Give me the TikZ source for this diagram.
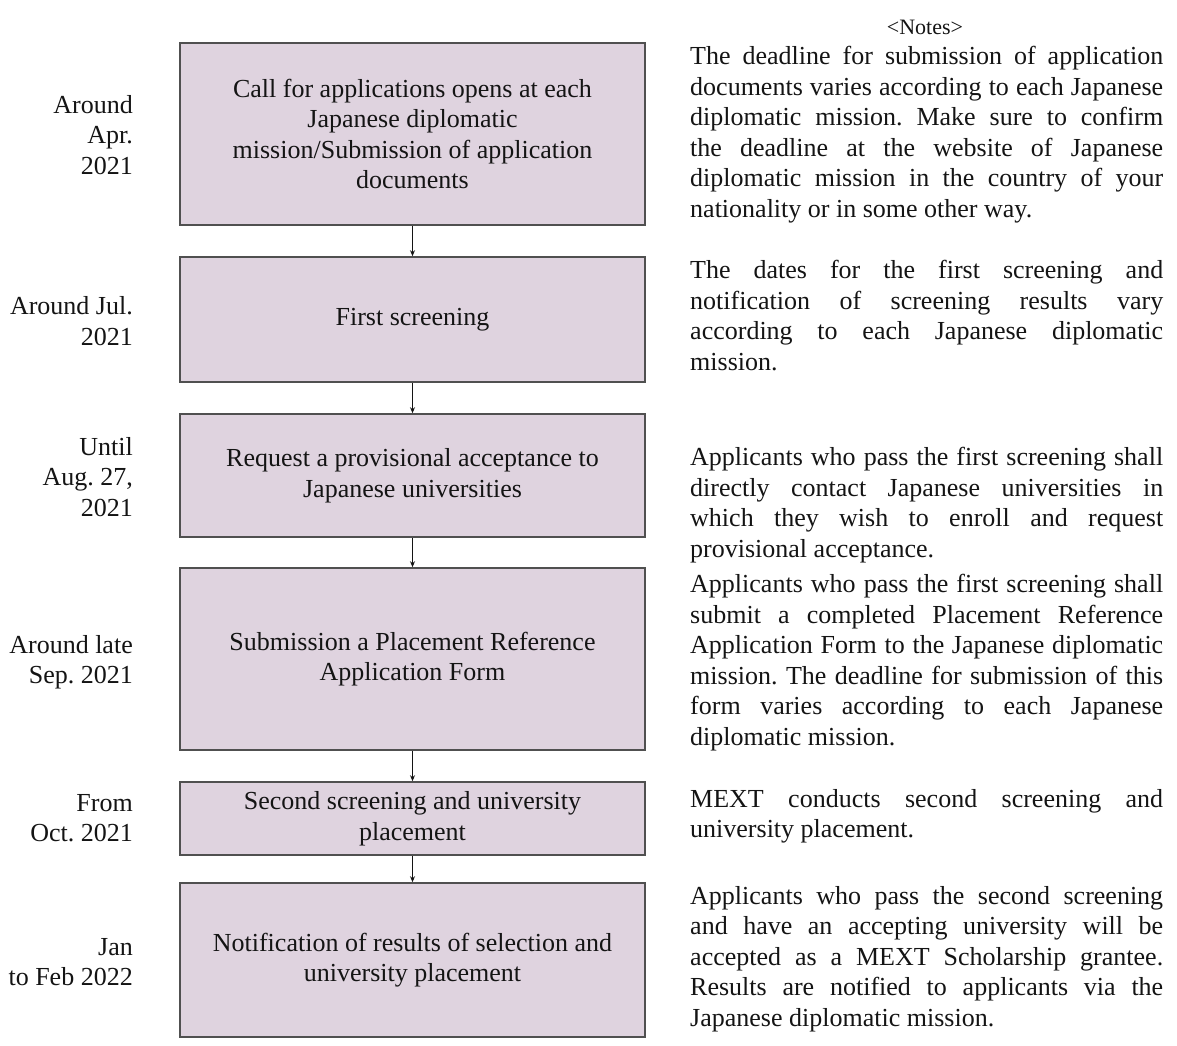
\documentclass[tikz,border=0pt]{standalone}
\usepackage{fontspec}
\setmainfont{Liberation Serif}
\usetikzlibrary{arrows.meta}
\definecolor{boxfill}{RGB}{223,211,223}
\definecolor{boxdraw}{RGB}{80,80,80}
\definecolor{txt}{RGB}{20,20,20}
\tolerance=10000
\hbadness=10000
\emergencystretch=20pt
\frenchspacing
\begin{document}
\begin{tikzpicture}[x=1pt,y=-1pt,
  stepbox/.style={draw=boxdraw, line width=1.6pt, fill=boxfill, minimum width=465pt, align=center, inner sep=0pt, font=\fontsize{26}{30.5}\selectfont, text=txt},
  datelbl/.style={anchor=east, align=right, inner sep=0pt, font=\fontsize{26}{30.5}\selectfont, text=txt},
  notetxt/.style={anchor=north west, text width=473pt, align=justify, inner sep=0pt, font=\fontsize{26}{30.5}\selectfont\frenchspacing, text=txt},
  flow/.style={draw=txt, line width=1.2pt, -{Stealth[length=6pt,width=5pt]}}]
\useasboundingbox (0,0) rectangle (1177,1045);

% step boxes
\node[stepbox, minimum height=182pt] (b1) at (412.5,134) {Call for applications opens at each\\Japanese diplomatic\\mission/Submission of application\\documents};
\node[stepbox, minimum height=125pt] (b2) at (412.5,319.5) {First screening};
\node[stepbox, minimum height=123pt] (b3) at (412.5,475.5) {Request a provisional acceptance to\\Japanese universities};
\node[stepbox, minimum height=182pt] (b4) at (412.5,659) {Submission a Placement Reference\\Application Form};
\node[stepbox, minimum height=73pt] (b5) at (412.5,818.5) {Second screening and university\\placement};
\node[stepbox, minimum height=154pt] (b6) at (412.5,960) {Notification of results of selection and\\university placement};

% connectors
\draw[flow] (b1.south) -- (b2.north);
\draw[flow] (b2.south) -- (b3.north);
\draw[flow] (b3.south) -- (b4.north);
\draw[flow] (b4.south) -- (b5.north);
\draw[flow] (b5.south) -- (b6.north);

% date labels
\node[datelbl] (d1) at (133,135) {Around\\Apr.\\2021};
\node[datelbl] (d2) at (133,321) {Around Jul.\\2021};
\node[datelbl] (d3) at (133,477) {Until\\Aug. 27,\\2021};
\node[datelbl] (d4) at (133,662) {Around late\\Sep. 2021};
\node[datelbl] (d5) at (133,818) {From\\Oct. 2021};
\node[datelbl] (d6) at (133,962) {Jan\\to Feb 2022};

% notes
\node[inner sep=0pt, font=\fontsize{22}{26}\selectfont, text=txt] (nt) at (925,27) {<Notes>};
\node[notetxt] (n1) at (690,46) {The deadline for submission of application\linebreak documents varies according to each Japanese\linebreak diplomatic mission. Make sure to confirm\linebreak the deadline at the website of Japanese\linebreak diplomatic mission in the country of your\linebreak nationality or in some other way.};
\node[notetxt] (n2) at (690,260) {The dates for the first screening and\linebreak notification of screening results vary\linebreak according to each Japanese diplomatic\linebreak mission.};
\node[notetxt] (n3) at (690,447) {Applicants who pass the first screening shall\linebreak directly contact Japanese universities in\linebreak which they wish to enroll and request\linebreak provisional acceptance.};
\node[notetxt] (n4) at (690,574) {Applicants who pass the first screening shall\linebreak submit a completed Placement Reference\linebreak Application Form to the Japanese diplomatic\linebreak mission. The deadline for submission of this\linebreak form varies according to each Japanese\linebreak diplomatic mission.};
\node[notetxt] (n5) at (690,789) {MEXT conducts second screening and\linebreak university placement.};
\node[notetxt] (n6) at (690,886) {Applicants who pass the second screening\linebreak and have an accepting university will be\linebreak accepted as a MEXT Scholarship grantee.\linebreak Results are notified to applicants via the\linebreak Japanese diplomatic mission.};
\end{tikzpicture}
\end{document}
